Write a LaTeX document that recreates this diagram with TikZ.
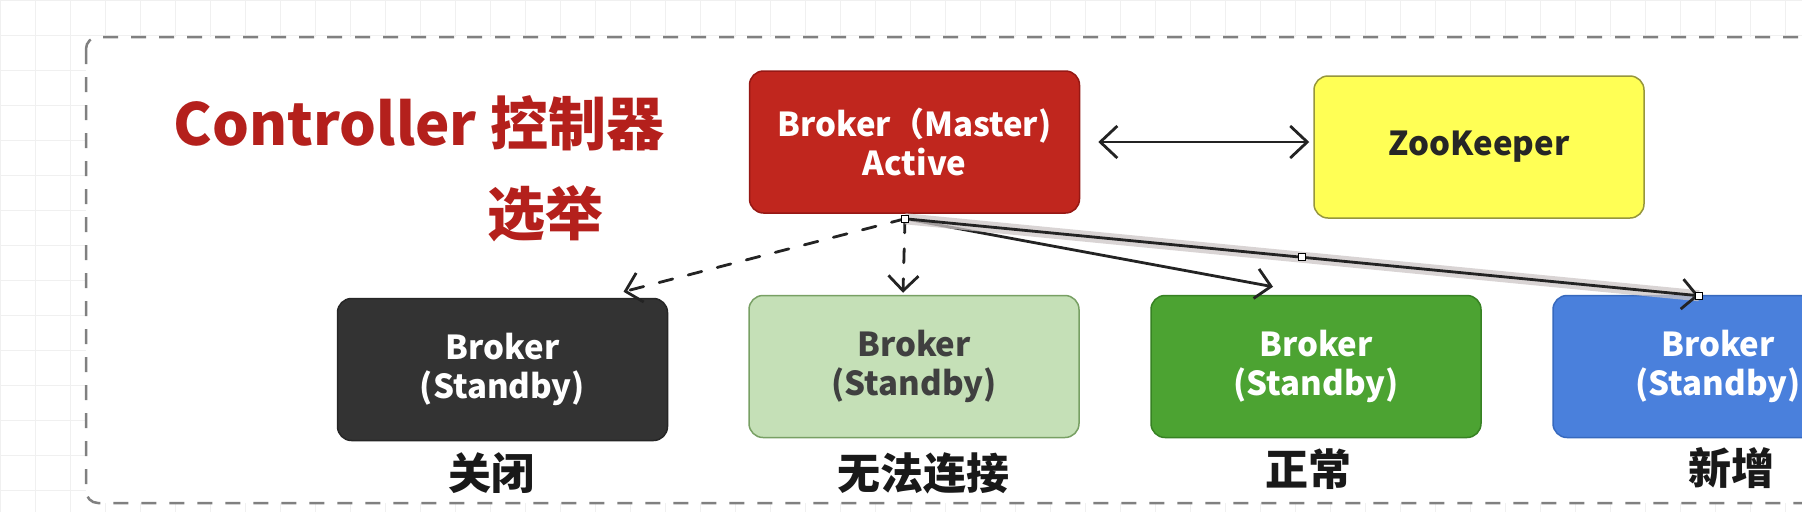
\documentclass[tikz,border=0pt]{standalone}
\usepackage{fontspec}
\setmainfont{Noto Sans CJK SC}
\usetikzlibrary{arrows.meta,calc}
\definecolor{titlered}{RGB}{180,32,28}
\definecolor{masterfill}{RGB}{192,38,30}
\definecolor{masterdraw}{RGB}{150,24,20}
\definecolor{zkfill}{RGB}{255,255,85}
\definecolor{zkdraw}{RGB}{150,150,60}
\definecolor{darkfill}{RGB}{51,51,51}
\definecolor{lgfill}{RGB}{197,224,183}
\definecolor{lgdraw}{RGB}{120,160,100}
\definecolor{gfill}{RGB}{76,163,50}
\definecolor{gdraw}{RGB}{55,130,35}
\definecolor{bfill}{RGB}{74,128,220}
\definecolor{bdraw}{RGB}{55,105,190}
\definecolor{linecol}{RGB}{35,35,35}
\definecolor{gridcol}{RGB}{240,240,240}
\definecolor{selband}{RGB}{205,198,198}
\tikzset{
  boxstyle/.style={rounded corners=14pt, minimum width=330pt, minimum height=142pt,
    line width=1.5pt, align=center, inner sep=0pt,
    font=\bfseries\fontsize{33}{39}\selectfont},
  lbl/.style={font=\bfseries\fontsize{43}{43}\selectfont, text=black!90, inner sep=0pt},
  conn/.style={line width=2.8pt, draw=linecol, line cap=round,
    -{Straight Barb[length=15pt, width=30pt, line width=2.8pt]}},
  dconn/.style={conn, dash pattern=on 14pt off 16pt},
  handle/.style={draw=black, fill=white, line width=1pt, minimum size=7pt, inner sep=0pt}
}
\begin{document}
\begin{tikzpicture}[x=1pt,y=-1pt]
\useasboundingbox (0,0) rectangle (1802,512);
\clip (0,0) rectangle (1802,512);
% background grid
\fill[white] (0,0) rectangle (1802,512);
\foreach \gx in {0,35,...,1802} \draw[gridcol, line width=1pt] (\gx,0) -- (\gx,512);
\foreach \gy in {0,35,...,512} \draw[gridcol, line width=1pt] (0,\gy) -- (1802,\gy);
% container
\draw[draw=black!50, fill=white, line width=2.5pt, dash pattern=on 15pt off 13pt, rounded corners=12pt]
  (86,37) rectangle (1960,503);
% title
\node[font=\bfseries\fontsize{58}{58}\selectfont, text=titlered, inner sep=0pt] (title) at (419,123) {Controller 控制器};
\node[font=\bfseries\fontsize{58}{58}\selectfont, text=titlered, inner sep=0pt] (title2) at (545,214) {选举};
% nodes
\node[boxstyle, fill=masterfill, draw=masterdraw, text=white] (master) at (914.5,142) {Broker（Master)\\Active};
\node[boxstyle, fill=zkfill, draw=zkdraw, text=black!85] (zk) at (1479,147) {ZooKeeper};
\node[boxstyle, fill=darkfill, draw=black!85, text=white] (b1) at (502.5,369.5) {Broker\\(Standby)};
\node[boxstyle, fill=lgfill, draw=lgdraw, text=black!75] (b2) at (914,366.5) {Broker\\(Standby)};
\node[boxstyle, fill=gfill, draw=gdraw, text=white] (b3) at (1316,366.5) {Broker\\(Standby)};
\node[boxstyle, fill=bfill, draw=bdraw, text=white] (b4) at (1718,366.5) {Broker\\(Standby)};
% labels
\node[lbl] (l1) at (491,473) {关闭};
\node[lbl] (l2) at (923,473) {无法连接};
\node[lbl] (l3) at (1308,469) {正常};
\node[lbl] (l4) at (1731,468) {新增};
% connector anchors
\coordinate (src) at ($(master.south)+(-9.5,5)$);
\coordinate (t1) at ($(b1.north)+(121,-6)$);
\coordinate (t2) at ($(b2.north)+(-11,-2)$);
\coordinate (t3) at ($(b3.north)+(-43,-8)$);
\coordinate (t4) at ($(b4.north)+(-19,1)$);
% connectors
\draw[conn, <->, {Straight Barb[length=17pt, width=32pt, line width=2.8pt]}-{Straight Barb[length=17pt, width=32pt, line width=2.8pt]},
  shorten <=18pt, shorten >=4pt] (master.east) -- (master.east -| zk.west);
\draw[dconn] (src) -- (t1);
\draw[dconn] (src) -- (t2);
\draw[conn] (src) -- (t3);
\draw[selband, line width=11pt, opacity=0.75] (src) -- (t4);
\draw[conn] (src) -- (t4);
\node[handle] (h0) at (src) {};
\node[handle] (h1) at ($(src)!0.5!(t4)$) {};
\node[handle] (h2) at (t4) {};
\end{tikzpicture}
\end{document}
